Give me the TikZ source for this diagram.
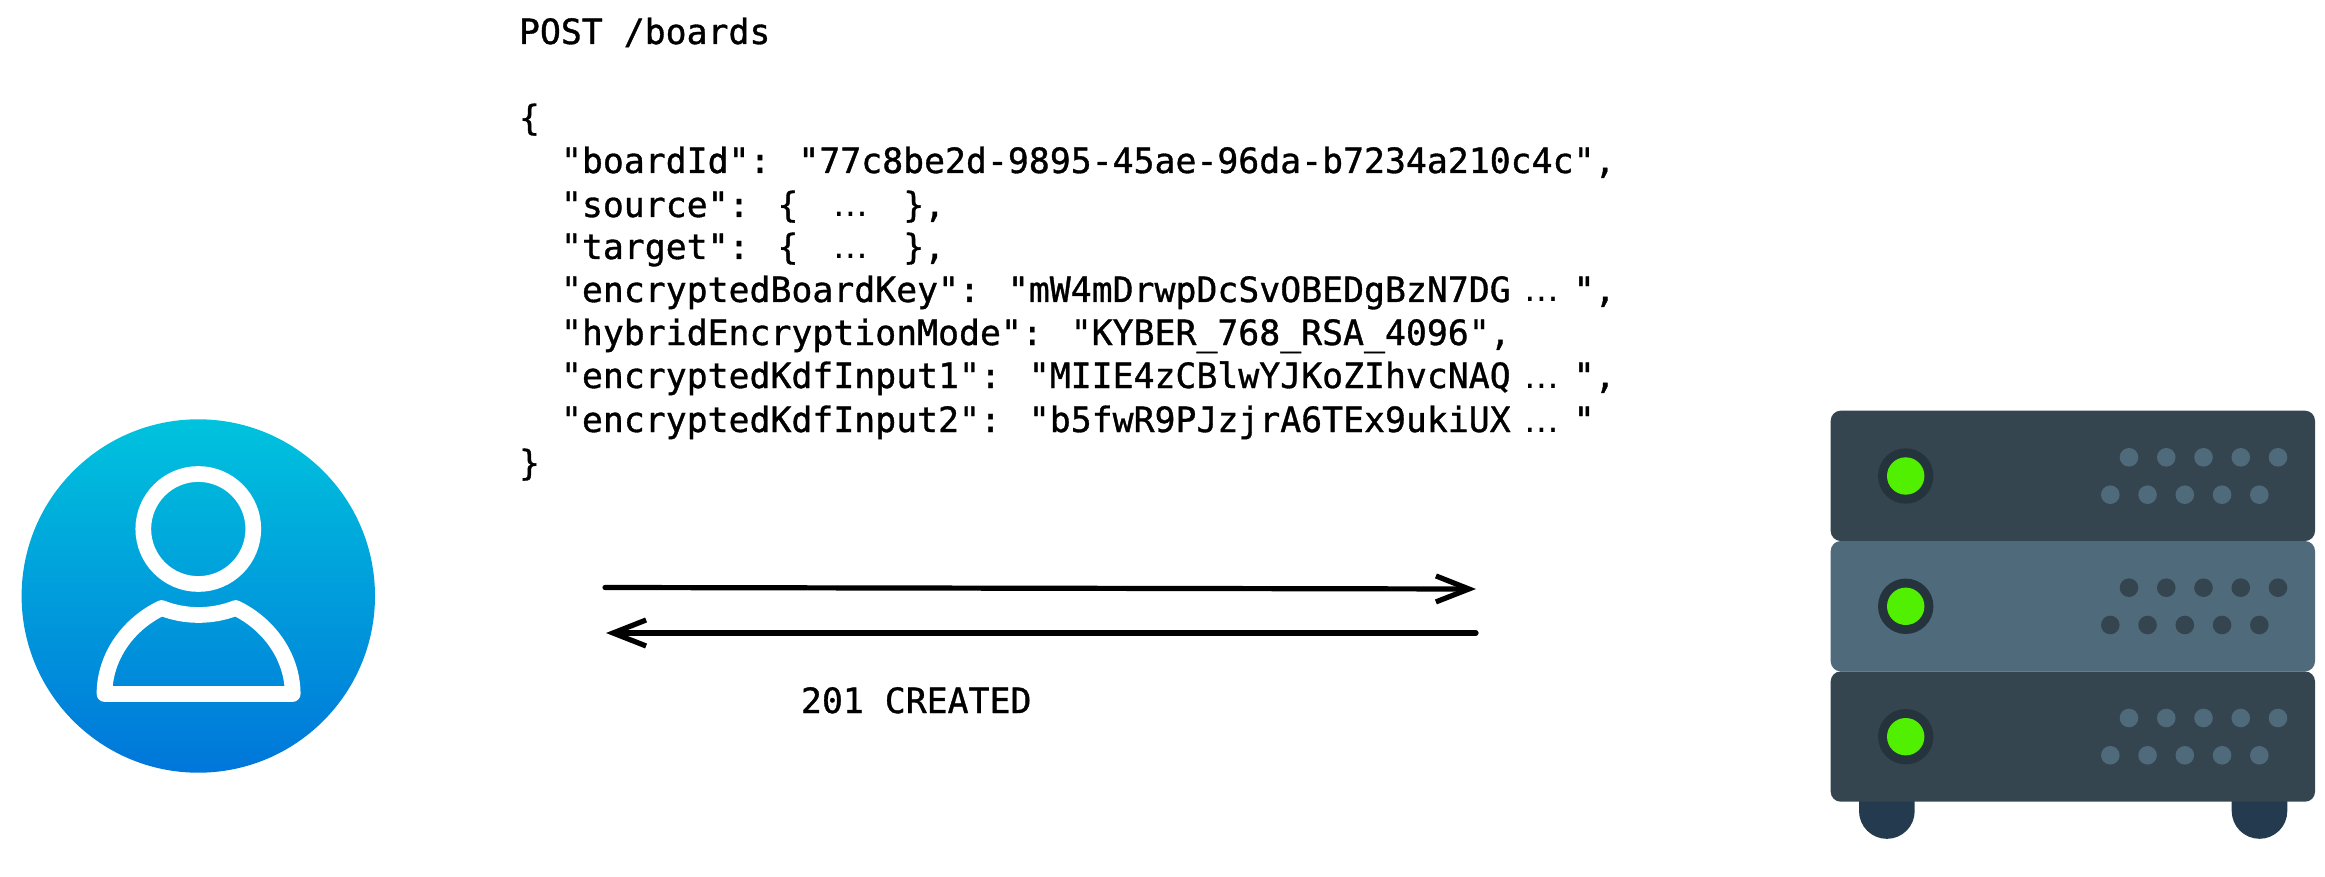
\documentclass[tikz,border=0pt]{standalone}
\usepackage{fontspec}
\usepackage{tikz}
\usetikzlibrary{arrows.meta, positioning}
\newfontfamily\codefont[FakeBold=1]{DejaVu Sans Mono}
\newfontfamily\elidefont{DejaVu Sans}
\newcommand{\elided}{\makebox[1.806em][c]{\elidefont …}}
\definecolor{usertop}{HTML}{00C3DD}
\definecolor{userbottom}{HTML}{0076DA}
\definecolor{rackdark}{HTML}{35454F}
\definecolor{rackmid}{HTML}{4E6A7B}
\definecolor{rackfoot}{HTML}{233A4F}
\definecolor{ledring}{HTML}{25343C}
\definecolor{ledgreen}{HTML}{51F000}
\tikzset{
    code/.style={anchor=base west, inner sep=0pt, outer sep=0pt, font=\codefont\fontsize{17.4}{21}\selectfont},
    usercircle/.style={circle, top color=usertop, bottom color=userbottom, draw=none, minimum size=176.7pt, inner sep=0pt, outer sep=0pt},
    userline/.style={draw=white, line width=7.85pt, line join=round},
    rack/.style={rectangle, rounded corners=5pt, minimum width=242.15pt, minimum height=65.15pt, inner sep=0pt, outer sep=0pt},
    ring/.style={circle, fill=ledring, minimum size=27.7pt, inner sep=0pt, outer sep=0pt},
    led/.style={circle, fill=ledgreen, minimum size=18.7pt, inner sep=0pt, outer sep=0pt},
    lightdot/.style={circle, fill=rackmid, minimum size=9.3pt, inner sep=0pt, outer sep=0pt},
    darkdot/.style={circle, fill=rackdark, minimum size=9.3pt, inner sep=0pt, outer sep=0pt},
    flow/.style={-{Straight Barb[length=16.5pt, width=13pt]}, line width=2.6pt, line cap=round}
}
\begin{document}
\begin{tikzpicture}[x=0.5pt, y=-0.5pt]
                \useasboundingbox (0, 0) rectangle (2325, 877);

                \node[usercircle] (user) at (198.3, 596) {};
                \node[circle, userline, minimum size=55pt, inner sep=0pt, outer sep=0pt] (head) at (198.3, 529) {};
                \draw[userline] (104.5, 694) .. controls (104.5, 657) and (128, 624) .. (161.7, 608)
                    .. controls (185, 617.3) and (212, 617.3) .. (235.7, 608)
                    .. controls (269, 624) and (292.7, 657) .. (292.7, 694) -- cycle;

                \node[code] (post) at (519, 44) {POST /boards};
                \node[code] (open) at (519, 130) {\{};
                \node[code] (boardid) at (561, 173) {"boardId": "77c8be2d-9895-45ae-96da-b7234a210c4c",};
                \node[code] (source) at (561, 217) {"source": \{ \elided{} \},};
                \node[code] (target) at (561, 259) {"target": \{ \elided{} \},};
                \node[code] (boardkey) at (561, 302) {"encryptedBoardKey": "mW4mDrwpDcSvOBEDgBzN7DG\elided",};
                \node[code] (hybrid) at (561, 345) {"hybridEncryptionMode": "KYBER\_768\_RSA\_4096",};
                \node[code] (kdfone) at (561, 388) {"encryptedKdfInput1": "MIIE4zCBlwYJKoZIhvcNAQ\elided",};
                \node[code] (kdftwo) at (561, 432) {"encryptedKdfInput2": "b5fwR9PJzjrA6TEx9ukiUX\elided"};
                \node[code] (close) at (519, 475) {\}};

                \coordinate (reqstart) at (605, 587.5);
                \coordinate (reqend) at (1476, 589);
                \coordinate (respstart) at (1476, 633);
                \coordinate (respend) at (606, 633);
                \draw[flow] (reqstart) -- (reqend);
                \draw[flow] (respstart) -- (respend);
                \node[code] (created) at (801, 713) {201 CREATED};

                \fill[rackfoot] (1859, 790) -- (1859, 811) arc[start angle=180, end angle=0, radius=27.85] -- (1914.7, 790) -- cycle;
                \fill[rackfoot] (2231.7, 790) -- (2231.7, 811) arc[start angle=180, end angle=0, radius=27.8] -- (2287.3, 790) -- cycle;

                \node[rack, fill=rackdark] (racktop) at (2072.85, 475.85) {};
                \node[rack, fill=rackdark] (rackbottom) at (2072.85, 736.55) {};
                \node[rack, fill=rackmid] (rackmiddle) at (2072.85, 606.2) {};

                \node[ring] (ringa) at (1905.7, 476) {};
                \node[ring] (ringb) at (1905.7, 606.3) {};
                \node[ring] (ringc) at (1905.7, 736.7) {};
                \node[led] (leda) at (1905.7, 476) {};
                \node[led] (ledb) at (1905.7, 606.3) {};
                \node[led] (ledc) at (1905.7, 736.7) {};

                \node[lightdot] (a1) at (2129, 457.3) {};
                \node[lightdot] (a2) at (2166.25, 457.3) {};
                \node[lightdot] (a3) at (2203.5, 457.3) {};
                \node[lightdot] (a4) at (2240.75, 457.3) {};
                \node[lightdot] (a5) at (2278, 457.3) {};
                \node[lightdot] (a6) at (2110.3, 494.7) {};
                \node[lightdot] (a7) at (2147.55, 494.7) {};
                \node[lightdot] (a8) at (2184.8, 494.7) {};
                \node[lightdot] (a9) at (2222.05, 494.7) {};
                \node[lightdot] (a10) at (2259.3, 494.7) {};
                \node[darkdot] (b1) at (2129, 587.7) {};
                \node[darkdot] (b2) at (2166.25, 587.7) {};
                \node[darkdot] (b3) at (2203.5, 587.7) {};
                \node[darkdot] (b4) at (2240.75, 587.7) {};
                \node[darkdot] (b5) at (2278, 587.7) {};
                \node[darkdot] (b6) at (2110.3, 625) {};
                \node[darkdot] (b7) at (2147.55, 625) {};
                \node[darkdot] (b8) at (2184.8, 625) {};
                \node[darkdot] (b9) at (2222.05, 625) {};
                \node[darkdot] (b10) at (2259.3, 625) {};
                \node[lightdot] (c1) at (2129, 718) {};
                \node[lightdot] (c2) at (2166.25, 718) {};
                \node[lightdot] (c3) at (2203.5, 718) {};
                \node[lightdot] (c4) at (2240.75, 718) {};
                \node[lightdot] (c5) at (2278, 718) {};
                \node[lightdot] (c6) at (2110.3, 755.3) {};
                \node[lightdot] (c7) at (2147.55, 755.3) {};
                \node[lightdot] (c8) at (2184.8, 755.3) {};
                \node[lightdot] (c9) at (2222.05, 755.3) {};
                \node[lightdot] (c10) at (2259.3, 755.3) {};
            \end{tikzpicture}
\end{document}
